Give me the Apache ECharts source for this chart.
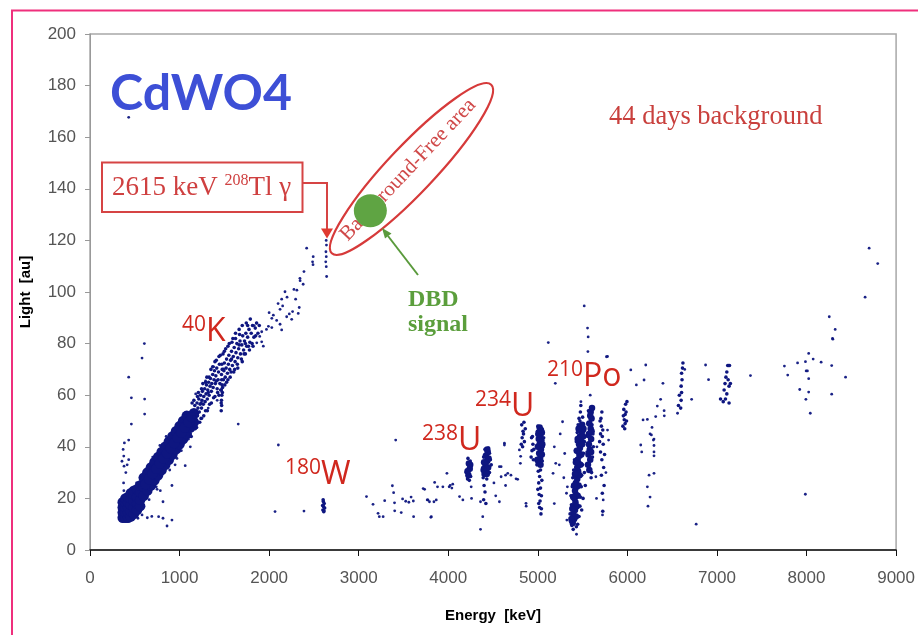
<!DOCTYPE html>
<html lang="en">
<head>
<meta charset="UTF-8">
<title>CdWO4 background</title>
<script src="https://cdn.jsdelivr.net/npm/echarts@6.0.0/dist/echarts.min.js"></script>
<style>
  html, body { margin: 0; padding: 0; background: #fff; }
  #container { width: 918px; height: 635px; }
</style>
</head>
<body>
<div id="container"></div>
<script type="text/javascript">

    // axis ticks
    const energyTicks = [0, 1000, 2000, 3000, 4000, 5000, 6000, 7000, 8000, 9000];
    const lightTicks = [0, 20, 40, 60, 80, 100, 120, 140, 160, 180, 200];

    // dense part of the 40K / 208Tl gamma band (energy keV, light au)
    const bandCore = [
        [365, 12.5], [365, 14.5], [365, 16.5], [365, 18.5],
        [395, 12.5], [395, 14.5], [395, 16.5], [395, 18.5], [395, 20],
        [425, 12.5], [425, 14.5], [425, 16.5], [425, 18.5], [425, 20.5],
        [455, 13], [455, 15], [455, 17.5], [455, 20], [455, 22],
        [490, 14], [490, 16.5], [490, 19], [490, 21.5], [490, 23],
        [525, 15.5], [525, 18], [525, 20.5], [525, 23.5],
        [560, 17], [560, 19.5], [560, 22.5], [560, 25],
        [600, 21], [600, 24.5], [600, 28],
        [640, 23], [640, 26.5], [640, 30],
        [680, 25], [680, 28.5], [680, 32],
        [720, 27], [720, 30.5], [720, 34],
        [760, 29], [760, 32.5], [760, 36],
        [800, 31], [800, 34.5], [800, 38],
        [840, 33], [840, 36.5], [840, 40],
        [880, 35], [880, 38.5], [880, 42],
        [920, 37], [920, 40.5], [920, 44],
        [960, 39], [960, 42.5], [960, 46],
        [1000, 41], [1000, 44.5], [1000, 48],
        [1040, 43], [1040, 46.5], [1040, 50],
        [1080, 45], [1080, 48.5], [1080, 52],
        [1120, 47.5], [1120, 51],
        [1160, 49.5], [1160, 53],
        [620, 25.5], [660, 27.5], [700, 29.5], [740, 31.5], [780, 33.5], [820, 35.5],
        [860, 37.5], [900, 39.5], [940, 41.5], [980, 43.5], [1020, 45.5], [1060, 47.5],
        [1100, 49.5], [1140, 51.5]
    ];

    // dense parts of the alpha lines (238U, 234U, 210Po ...)
    const alphaCore = [
        [5390, 10.5], [5405, 12], [5395, 14], [5415, 15.5], [5400, 17], [5420, 18.5],
        [5410, 20], [5425, 21.5], [5415, 23], [5435, 24.5], [5425, 26], [5440, 27.5],
        [5430, 29], [5450, 30.5], [5440, 32], [5455, 33.5], [5445, 35], [5465, 36.5],
        [5455, 38], [5470, 39.5], [5460, 41], [5480, 42.5], [5470, 44], [5490, 45.5],
        [5480, 47], [5495, 48.5],
        [5425, 13], [5435, 17], [5445, 21], [5455, 25], [5465, 29], [5475, 33],
        [5485, 37], [5495, 41], [5505, 44], [5510, 47],
        [5375, 12], [5385, 16], [5395, 20.5], [5405, 25], [5415, 29.5], [5425, 34],
        [5435, 38.5], [5445, 43], [5455, 47],
        [5575, 31], [5585, 35], [5580, 39], [5595, 43], [5590, 47], [5600, 51], [5590, 53.5], [5570, 45],
        [5560, 33], [5565, 37], [5570, 41], [5575, 49], [5585, 52], [5600, 46], [5595, 38], [5605, 55],
        [5010, 34], [5025, 35.5], [5015, 37.5], [5035, 39], [5020, 41], [5040, 42.5],
        [5025, 44.5], [5035, 46.5], [5010, 43], [5045, 37],
        [4995, 35], [5000, 40], [5005, 45], [5050, 41], [5045, 45.5], [5030, 33], [5020, 47.5],
        [4405, 29.5], [4425, 31], [4415, 33], [4435, 34.5], [4420, 36.5], [4440, 38], [4445, 32],
        [4395, 31], [4400, 34], [4430, 29.5], [4450, 35.5], [4435, 39],
        [4225, 29], [4240, 31.5], [4230, 33.5], [4215, 30.5], [4245, 33]
    ];

    // events in the clusters, drawn a bit bigger than isolated ones
    const clusterEvents = [
        // upper part of the gamma band
        [1150, 49], [1155, 54], [1165, 51.5], [1170, 56], [1180, 50.5], [1185, 53.5], [1195, 57],
        [1200, 52], [1205, 55], [1215, 58.5], [1220, 53.5], [1230, 56.5], [1235, 60], [1245, 55],
        [1250, 58], [1255, 61.5], [1265, 56.5], [1270, 59.5], [1280, 62.5], [1285, 57.5], [1295, 60.5],
        [1300, 64], [1310, 58.5], [1315, 62], [1325, 65], [1330, 60], [1340, 63.5], [1345, 66.5],
        [1355, 61.5], [1360, 64.5], [1370, 68], [1375, 63], [1385, 66], [1390, 69.5], [1400, 64.5],
        [1405, 67.5], [1415, 70.5], [1420, 62.5], [1430, 66], [1435, 69], [1445, 72], [1450, 64.5],
        [1465, 54], [1470, 56], [1468, 58], [1472, 60], [1466, 62], [1474, 64], [1470, 66],
        [1468, 68], [1476, 70], [1472, 72], [1465, 57], [1478, 61],
        [1490, 66], [1495, 69.5], [1500, 72.5], [1510, 67], [1520, 70.5], [1525, 74], [1535, 68.5],
        [1545, 72], [1550, 75.5], [1560, 70], [1570, 73.5], [1580, 77], [1590, 71.5], [1600, 75],
        [1610, 78.5], [1620, 73], [1630, 76.5], [1640, 80], [1650, 74.5], [1660, 78], [1675, 81],
        [1680, 76], [1695, 79.5], [1705, 83], [1715, 77.5], [1725, 81], [1740, 84], [1750, 79],
        [1760, 82.5], [1775, 85.5], [1785, 80.5], [1800, 84], [1815, 87], [1830, 82.5], [1845, 86],
        [1860, 88], [1875, 84], [1890, 87],
        [1130, 44], [1140, 57], [1190, 47.5], [1210, 61], [1240, 51], [1260, 64.5], [1290, 54],
        [1305, 67], [1335, 56.5], [1350, 70], [1380, 59], [1395, 73], [1425, 61], [1440, 75],
        [1460, 62], [1485, 76], [1505, 64], [1515, 78], [1540, 66], [1555, 80], [1575, 69],
        [1595, 82], [1615, 70], [1625, 84], [1645, 72], [1665, 85.5], [1690, 74], [1700, 87],
        [1720, 76], [1745, 88], [1770, 79], [1790, 89.5], [1810, 80], [1850, 83],
        [1160, 58], [1175, 47], [1200, 59.5], [1225, 49.5], [1245, 62.5], [1270, 52], [1290, 65],
        [1310, 54], [1330, 67], [1355, 57], [1370, 71], [1395, 59.5], [1410, 73.5], [1440, 60],
        [1455, 75.5], [1480, 63], [1500, 77], [1525, 65], [1540, 79], [1565, 67], [1585, 80.5],
        [1605, 69], [1625, 82], [1650, 70.5], [1670, 83.5], [1700, 73], [1735, 76], [1760, 87],
        [1780, 77.5], [1820, 79], [1240, 57], [1320, 61], [1410, 65.5], [1490, 70], [1580, 74],
        [1665, 79.5], [1735, 80],
        // 180W
        [2600, 15.5], [2608, 16.8], [2615, 18], [2605, 18.8], [2612, 15.2], [2597, 17.2],
        [2620, 16.3], [2610, 14.8], [2603, 19.5],
        // 238U and the 4.4 MeV group
        [4215, 27.5], [4250, 28.5], [4245, 34.5], [4210, 31], [4235, 27], [4255, 32.5], [4220, 35.5], [4200, 30],
        [4390, 28], [4460, 30], [4470, 35], [4395, 36], [4450, 39.5], [4410, 39], [4430, 27.5], [4480, 33],
        [4385, 32], [4460, 37.5], [4400, 25], [4410, 22.5], [4395, 19.5], [4420, 18],
        // 234U region
        [4815, 41], [4825, 43.5], [4835, 46], [4820, 48.5], [4840, 45], [4850, 42], [4860, 47], [4830, 40], [4845, 49.5],
        [4925, 36], [4935, 38.5], [4945, 41], [4930, 43.5], [4955, 39], [4950, 35], [4940, 44],
        [4990, 33], [5050, 34.5], [5060, 40], [5055, 45], [4995, 46], [5000, 48], [5065, 43.5],
        [5005, 30.5], [5020, 28.5], [5010, 26], [5030, 24], [5015, 21.5], [5025, 19], [5020, 16.5],
        [5035, 14], [5030, 31], [5045, 27], [5040, 21], [5000, 23.5], [5010, 18], [5040, 16],
        // 210Po
        [5360, 14], [5375, 17.5], [5370, 21], [5385, 24.5], [5390, 28], [5400, 31], [5410, 35],
        [5420, 38.5], [5430, 42], [5440, 45.5], [5450, 48.5], [5460, 51], [5475, 53.5], [5480, 56],
        [5470, 50], [5500, 51.5], [5515, 46], [5520, 42], [5510, 37.5], [5500, 33], [5490, 29],
        [5485, 24.5], [5475, 20.5], [5470, 17], [5460, 13], [5445, 10], [5430, 9], [5395, 8],
        [5365, 11], [5380, 9.5], [5520, 30], [5530, 25], [5505, 20], [5490, 15.5], [5550, 38],
        [5555, 44], [5560, 49], [5565, 54], [5545, 33], [5610, 36], [5615, 45], [5605, 48.5],
        [5620, 40], [5600, 30], [5595, 28],
        [5690, 42], [5700, 45], [5710, 48], [5705, 51], [5715, 53.5], [5695, 50], [5720, 44],
        [5730, 41], [5725, 46.5], [5700, 38], [5715, 35], [5735, 32], [5710, 29], [5740, 25],
        [5720, 22], [5725, 15], [5745, 37],
        // higher energy groups
        [5950, 48], [5965, 50.5], [5975, 52.5], [5960, 54.5], [5980, 56.5], [5970, 47], [5990, 50],
        [5985, 53.5], [5955, 52], [5995, 57.5], [5975, 49],
        [6595, 55], [6600, 58], [6605, 61], [6600, 63.5], [6610, 66], [6605, 68.5], [6615, 70.5],
        [6620, 72.5], [6580, 60], [6570, 56],
        [7080, 62], [7090, 64.5], [7100, 67], [7110, 69], [7120, 71.5], [7130, 71.5], [7140, 71.5],
        [7125, 66], [7135, 63.5], [7150, 64.5], [7110, 60.5], [7095, 58.5], [7070, 57.5],
        [7040, 58.5], [7135, 57]
    ];

    // isolated events
    const strayEvents = [
        [432, 167.7],
        [607, 80], [581, 74.4], [432, 67], [462, 59], [610, 58.5], [610, 52.7], [462, 48.8],
        [1655, 48.8], [432, 42.6], [384, 41.5], [377, 36.4], [432, 35], [357, 34.4], [380, 32.5],
        [400, 30], [375, 26], [378, 23], [415, 33], [370, 39],
        [1063, 32.7], [915, 25], [785, 23], [815, 18.7], [766, 12.9], [815, 12.3], [915, 11.6],
        [860, 9.3], [581, 13.6], [535, 12.3], [971, 35.5], [749, 23.5], [640, 12.5], [690, 13], [1120, 40],
        [700, 36], [780, 40.5], [850, 44], [950, 33], [1020, 38.5], [1100, 43], [890, 31], [660, 19.5],
        [740, 24.5], [990, 49.5], [1060, 53], [560, 28], [520, 26], [1250, 51], [1180, 60.5],
        [1320, 55], [1380, 71], [1420, 58], [1290, 65.5],
        [2637, 120], [2640, 118.2], [2634, 115.6], [2638, 113.7], [2632, 111.7], [2638, 109.8],
        [2642, 106], [2419, 117], [2485, 111.7], [2490, 110.6], [2389, 107.9], [2344, 105.3],
        [2346, 104.4], [2277, 101], [2310, 100.7], [2177, 100.1], [2140, 97.2], [2296, 97.2],
        [2151, 94.6], [2122, 93.3], [2336, 94], [2262, 92.4], [2225, 91.5], [2196, 90.4],
        [2325, 91.7], [2252, 89.4], [2047, 91], [2084, 89], [2030, 89.8], [2122, 87.5], [2030, 86.2],
        [1992, 86.7], [2140, 85.3], [1970, 85.5], [1917, 84.6], [1895, 82.8], [1862, 87.9],
        [1833, 87], [1917, 80.7], [1935, 79], [1862, 80.3], [2000, 92], [2100, 95.5], [2200, 98],
        [2380, 103], [2492, 113.7],
        [2103, 40.7], [2066, 14.9], [2389, 15.1],
        [3087, 20.7], [3160, 17.7], [3216, 14.2], [3273, 12.9], [3230, 12.9], [3290, 19.1],
        [3376, 24.9], [3390, 22.2], [3400, 18.3], [3402, 15.2], [3475, 14.5], [3490, 19.8],
        [3525, 18.9], [3560, 18.5], [3585, 20.5], [3610, 19], [3613, 12.9], [3720, 23.8],
        [3765, 19.4], [3790, 18.7], [3806, 12.7], [3840, 18.7], [3848, 26.2], [3413, 42.6],
        [3736, 23.5], [3773, 19.4], [3866, 19.4], [3811, 12.9], [3940, 24.5], [4021, 25],
        [4040, 24], [3985, 29.7], [4126, 20.7], [4163, 19.4], [4256, 24.5], [4260, 20],
        [4360, 18.7], [4385, 12.9], [4360, 8], [3880, 24.5], [4010, 24.5], [4050, 25.5],
        [4571, 18.7], [4590, 32.3], [4627, 40.7], [4640, 29], [4700, 29], [4775, 27.4], [4640, 25],
        [4868, 18.1], [4870, 17], [4805, 33.6], [4808, 36.3], [4571, 32.3], [4590, 28.4],
        [4664, 29.7], [4627, 41.4], [4757, 27.6], [4794, 38.8], [4530, 21], [4510, 26],
        [5184, 40], [5200, 33.6], [5170, 29.7], [5184, 18], [5240, 33], [5276, 49.7], [5300, 37.4],
        [5330, 24.5], [5320, 22], [5324, 11.6], [5432, 6.1], [5117, 80.4], [5250, 45], [5290, 28],
        [5518, 94.6], [5555, 86], [5562, 82.6], [5559, 76.9], [5778, 75], [6038, 69.8],
        [5585, 60], [5481, 57.5], [5195, 64.6],
        [5648, 28.4], [5722, 13.6], [5730, 19.4], [5778, 46.5], [5790, 42.6], [5760, 30],
        [5660, 40], [5655, 20],
        [6149, 40.7], [6160, 38], [6223, 24.5], [6230, 17], [6253, 20.5], [6242, 29], [6297, 43],
        [6297, 40.5], [6297, 38], [6297, 36.5], [6297, 29.7], [6253, 45], [6223, 50.6], [6316, 51.7],
        [6275, 47.5], [6334, 55.8], [6371, 58.4], [6397, 64.6], [6410, 54], [6412, 52], [6175, 50.4],
        [6186, 65.9], [6205, 71.7], [6100, 64], [5766, 74.9], [6268, 44.6], [6290, 42.6], [6768, 10],
        [6717, 58.4], [6873, 71.7], [6906, 66], [7374, 67.6], [6560, 53], [6640, 70],
        [7753, 71.3], [7790, 67.8], [7900, 72.5], [7988, 73], [8024, 76.2], [8074, 74], [8163, 72.8],
        [7996, 69.4], [8010, 69.4], [8024, 66.4], [7924, 62.2], [8024, 61.2], [7993, 58.4],
        [8042, 53], [7987, 21.6], [8281, 71.5], [8281, 60.4], [8436, 67], [8294, 81.7], [8320, 85.5],
        [8290, 82], [8699, 117], [8795, 111], [8654, 98], [8254, 90.4]
    ];

    // expected double beta decay signal
    const dbdSignal = [[3130, 131.5]];

    const navy = '#0e1680';
    const red = '#d0281e';

    function isotope(mass, name, x, y) {
        return {
            type: 'text', x: x, y: y, z: 100,
            style: {
                text: '{m|' + mass + '}{s|' + name + '}',
                align: 'left', verticalAlign: 'top',
                rich: {
                    m: {fontSize: 21, lineHeight: 24, verticalAlign: 'top', fill: red, fontFamily: '"Open Sans", sans-serif'},
                    s: {fontSize: 32, lineHeight: 34, fill: red, fontFamily: '"Open Sans", sans-serif'}
                }
            }
        };
    }

    let chart = echarts.init(document.getElementById('container'));

    let option = {
        animation: false,
        grid: {left: 90, right: 20, top: 34, bottom: 85, show: true, borderColor: '#a8a8a8', borderWidth: 1.5},
        xAxis: {
            type: 'value', min: energyTicks[0], max: energyTicks[energyTicks.length - 1], interval: 1000,
            name: 'Energy  [keV]', nameLocation: 'middle', nameGap: 58,
            nameTextStyle: {fontFamily: 'Liberation Sans', fontWeight: 'bold', fontSize: 15, color: '#000'},
            axisLine: {lineStyle: {color: '#111', width: 1.5}},
            axisTick: {length: 6, lineStyle: {color: '#111'}},
            axisLabel: {margin: 20, fontFamily: 'Liberation Sans', fontSize: 17, color: '#555',
                formatter: function (v) { return String(v); }},
            splitLine: {show: false}
        },
        yAxis: {
            type: 'value', min: lightTicks[0], max: lightTicks[lightTicks.length - 1], interval: 20,
            name: 'Light  [au]', nameLocation: 'middle', nameGap: 57,
            nameTextStyle: {fontFamily: 'Liberation Sans', fontWeight: 'bold', fontSize: 15, color: '#000'},
            axisLine: {show: true, lineStyle: {color: '#999', width: 1}},
            axisTick: {show: true, length: 5, lineStyle: {color: '#999'}},
            axisLabel: {margin: 14, fontFamily: 'Liberation Sans', fontSize: 17, color: '#555',
                formatter: function (v) { return String(v); }},
            splitLine: {show: false}
        },
        series: [
            {type: 'scatter', name: 'band', data: bandCore, symbolSize: 10.5, itemStyle: {color: navy, opacity: 1}, silent: true},
            {type: 'scatter', name: 'alpha', data: alphaCore, symbolSize: 6.5, itemStyle: {color: navy, opacity: 1}, silent: true},
            {type: 'scatter', name: 'clusters', data: clusterEvents, symbolSize: 3.6, itemStyle: {color: navy, opacity: 1}, silent: true},
            {type: 'scatter', name: 'events', data: strayEvents, symbolSize: 2.8, itemStyle: {color: navy, opacity: 0.95}, silent: true},
            {type: 'scatter', name: 'DBD signal', data: dbdSignal, symbolSize: 33, z: 150, itemStyle: {color: '#5fa443', opacity: 1}, silent: true}
        ],
        graphic: [
            // pink frame
            {type: 'polyline', z: 100, shape: {points: [[12, 635], [12, 10.5], [918, 10.5]]}, style: {stroke: '#ef2f7c', lineWidth: 2, fill: null}},
            {type: 'text', x: 110, y: 94, z: 100, style: {text: 'CdWO4', fill: '#3d4fd6', fontSize: 50, fontWeight: 'bold', fontFamily: '"Comic Sans MS", Lato, sans-serif', verticalAlign: 'middle'}},
            {type: 'text', x: 609, y: 117, z: 100, style: {text: '44 days background', fill: '#c9403d', fontSize: 26.5, fontFamily: '"Liberation Serif", serif', verticalAlign: 'middle'}},
            // 2615 keV box and arrow
            {type: 'rect', z: 100, shape: {x: 102, y: 162.5, width: 200.5, height: 49.5}, style: {stroke: '#d64444', lineWidth: 2, fill: null}},
            {type: 'text', x: 112, y: 172.5, z: 100, style: {
                text: '{a|2615 keV }{b|208}{a|Tl γ}', align: 'left', verticalAlign: 'top',
                rich: {
                    a: {fontSize: 27, lineHeight: 30, fill: '#cf4040', fontFamily: '"Liberation Serif", serif'},
                    b: {fontSize: 16, lineHeight: 23, verticalAlign: 'top', fill: '#cf4040', fontFamily: '"Liberation Serif", serif'}
                }
            }},
            {type: 'polyline', z: 100, shape: {points: [[302.5, 183], [327, 183], [327, 230]]}, style: {stroke: '#d64444', lineWidth: 2, fill: null}},
            {type: 'polygon', z: 100, shape: {points: [[321, 228.5], [333, 228.5], [327, 238.5]]}, style: {fill: '#e03a30'}},
            // background free area
            {type: 'ellipse', x: 411.5, y: 169, rotation: 46.6 * Math.PI / 180, z: 100, shape: {cx: 0, cy: 0, rx: 116, ry: 23.5}, style: {stroke: '#d63a3a', lineWidth: 2.2, fill: null}},
            {type: 'text', x: 408, y: 170, rotation: 46.6 * Math.PI / 180, z: 100, style: {text: 'Background-Free area', fill: '#d04a4a', fontSize: 21, fontFamily: '"Liberation Serif", serif', align: 'center', verticalAlign: 'middle'}},
            // DBD signal arrow and label
            {type: 'line', z: 100, shape: {x1: 418, y1: 275, x2: 388, y2: 236}, style: {stroke: '#5a9a3c', lineWidth: 2}},
            {type: 'polygon', z: 100, shape: {points: [[382, 228], [391.5, 233.5], [385, 238.5]]}, style: {fill: '#5a9a3c'}},
            {type: 'text', x: 408, y: 300, z: 100, style: {text: 'DBD', fill: '#5b9e3c', fontSize: 24, fontWeight: 'bold', fontFamily: '"Liberation Serif", serif', verticalAlign: 'middle'}},
            {type: 'text', x: 408, y: 325, z: 100, style: {text: 'signal', fill: '#5b9e3c', fontSize: 24, fontWeight: 'bold', fontFamily: '"Liberation Serif", serif', verticalAlign: 'middle'}},
            // isotope labels
            isotope('40', 'K', 182, 315),
            isotope('180', 'W', 285, 458),
            isotope('238', 'U', 422, 424),
            isotope('234', 'U', 475, 390),
            isotope('210', 'Po', 547, 360)
        ]
    };

    chart.setOption(option);

</script>
</body>
</html>
